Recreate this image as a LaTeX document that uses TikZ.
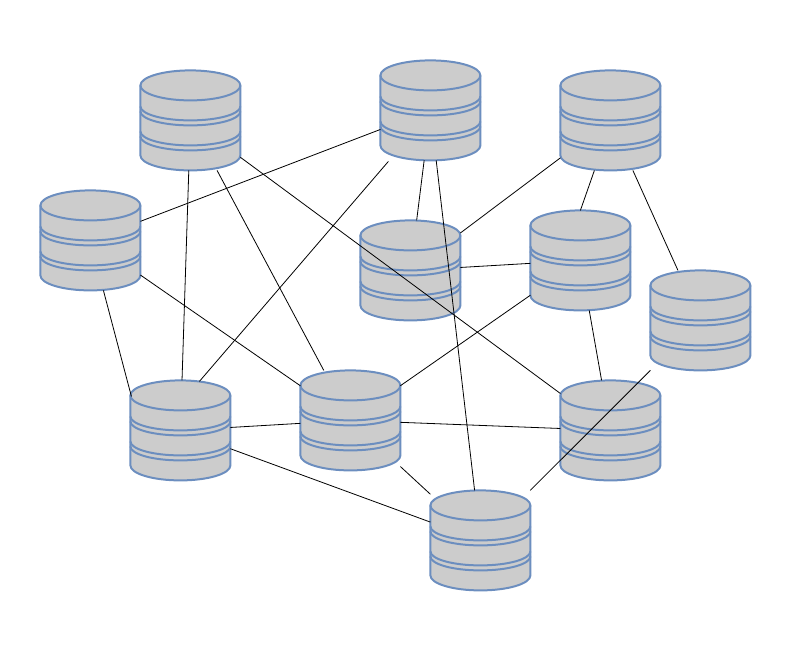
\documentclass[tikz,border=0pt]{standalone}
\usetikzlibrary{calc}
\definecolor{dbline}{RGB}{108,142,191}
\definecolor{dbfill}{RGB}{204,204,204}
\tikzset{
  dbbox/.style={rectangle,draw=none,fill=none,inner sep=0pt,outer sep=0pt,minimum width=100pt,minimum height=100pt},
  dbshape/.style={draw=dbline,fill=dbfill,line width=2pt,line join=round},
  dbband/.style={draw=dbline,line width=2pt},
  link/.style={draw=black,line width=0.8pt}
}
% name, centre x, centre y (pixels from the top left)
\newcommand{\dbbox}[3]{\node[dbbox] (#1) at (#2.4,#3.4) {};}
\newcommand{\dbdraw}[1]{%
  \begin{scope}[shift={(#1.north west)}]
    \path[dbshape] (0,15) .. controls (0,6.7) and (22.4,0) .. (50,0) .. controls (77.6,0) and (100,6.7) .. (100,15) -- (100,85)
      .. controls (100,93.3) and (77.6,100) .. (50,100) .. controls (22.4,100) and (0,93.3) .. (0,85) -- cycle;
    \foreach \e/\b in {36/50,41/55,61/75,66/80}{
      \path[dbband] (0,\e) .. controls (0,{\e+0.55*(\b-\e)}) and (22.4,\b) .. (50,\b)
        .. controls (77.6,\b) and (100,{\e+0.55*(\b-\e)}) .. (100,\e);
    }
    \path[dbband] (0,15) .. controls (0,23.3) and (22.4,30) .. (50,30) .. controls (77.6,30) and (100,23.3) .. (100,15);
  \end{scope}}
\begin{document}
\begin{tikzpicture}[x=1pt,y=-1pt]
\useasboundingbox (0,0) rectangle (801,651);
\dbbox{a}{190}{120}
\dbbox{b}{430}{110}
\dbbox{c}{610}{120}
\dbbox{d}{90}{240}
\dbbox{e}{410}{270}
\dbbox{f}{580}{260}
\dbbox{g}{700}{320}
\dbbox{h}{180}{430}
\dbbox{i}{350}{420}
\dbbox{j}{610}{430}
\dbbox{k}{480}{540}
\foreach \n in {a,b,c,d,e,f,g,h,i,j,k} {\dbdraw{\n}}
\foreach \p/\q in {a/h,a/i,a/j,d/b,b/e,b/k,c/e,c/g,e/f,f/i,f/j,d/i,h/i,h/k,i/j,i/k,g/k}
  \draw[link] (\p) -- (\q);
\draw[link] ($(d.south west)+(63,0)$) -- ($(h.north west)+(1,16)$);
\draw[link] ($(b.south west)+(8,1)$) -- ($(h.north west)+(69,1)$);
\draw[link] ($(c.south west)+(34,0)$) -- (f.north);
\end{tikzpicture}
\end{document}
